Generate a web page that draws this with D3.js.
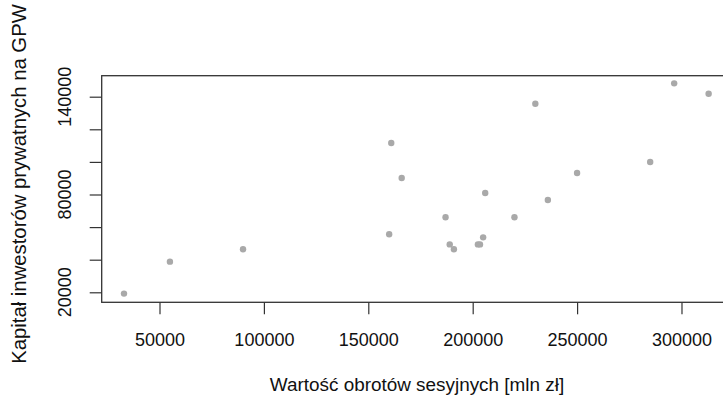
<!DOCTYPE html>
<html>
<head>
<meta charset="utf-8">
<script src="https://cdn.jsdelivr.net/npm/d3@7"></script>
<style>
  html, body { margin: 0; padding: 0; background: #ffffff; overflow: hidden; }
  svg { display: block; font-family: "Liberation Sans", Arial, sans-serif; }
</style>
</head>
<body>
<svg id="chart" width="723" height="399"></svg>
<script>
// Data
const turnover = [33000, 55000, 90000, 161000, 166000, 160000, 230000, 296500, 313000, 285000,
                  250000, 206000, 236000, 187000, 220000, 205000, 189000, 191000, 202500, 203500];
const capital  = [19200, 38800, 46400, 111600, 90100, 55600, 135700, 148200, 141800, 99900,
                  93200, 80900, 76600, 66000, 66000, 53700, 49400, 46400, 49400, 49400];
const xTicks = [50000, 100000, 150000, 200000, 250000, 300000];
const yTicks = [20000, 40000, 60000, 80000, 100000, 120000, 140000];
const yTickLabels = [20000, 80000, 140000];
const xTitle = "Wartość obrotów sesyjnych [mln zł]";
const yTitle = "Kapitał inwestorów prywatnych na GPW";

const svg = d3.select("#chart");
const pLeft = 101.7, pRight = 731.6, pTop = 75.7, pBottom = 302.3;

const x = d3.scaleLinear().domain([22318, 324000]).range([pLeft, pRight]);
const y = d3.scaleLinear().domain([13865, 152883]).range([pBottom, pTop]);

// x axis
const xAxis = d3.axisBottom(x).tickValues(xTicks).tickSize(12).tickPadding(19)
  .tickFormat(d3.format("d"));
const gx = svg.append("g").attr("transform", `translate(0,${pBottom})`).call(xAxis);
gx.select(".domain").remove();
gx.selectAll(".tick line").attr("stroke", "#333").attr("stroke-width", 1.2);
gx.selectAll(".tick text").attr("font-size", 18).attr("fill", "#111")
  .attr("font-family", "Liberation Sans, Arial, sans-serif");

// y axis
const yAxis = d3.axisLeft(y).tickValues(yTicks).tickSize(12).tickFormat("");
const gy = svg.append("g").attr("transform", `translate(${pLeft},0)`).call(yAxis);
gy.select(".domain").remove();
gy.selectAll(".tick line").attr("stroke", "#333").attr("stroke-width", 1.2);

// rotated y tick labels
svg.append("g").selectAll("text").data(yTickLabels).join("text")
  .attr("transform", d => `translate(71,${y(d)}) rotate(-90)`)
  .attr("text-anchor", "middle")
  .attr("font-size", 18).attr("fill", "#111")
  .text(d => d3.format("d")(d));

// plot box
svg.append("rect").attr("x", pLeft).attr("y", pTop)
  .attr("width", pRight - pLeft).attr("height", pBottom - pTop)
  .attr("fill", "none").attr("stroke", "#333").attr("stroke-width", 1.3);

// points
svg.append("g").selectAll("circle").data(turnover.map((v, i) => [v, capital[i]])).join("circle")
  .attr("cx", d => x(d[0])).attr("cy", d => y(d[1])).attr("r", 3.2)
  .attr("fill", "#a9a9a9");

// axis titles
svg.append("text").attr("x", 417).attr("y", 391)
  .attr("text-anchor", "middle").attr("font-size", 18.9).attr("fill", "#111")
  .text(xTitle);

svg.append("text").attr("transform", `translate(26,${184}) rotate(-90)`)
  .attr("text-anchor", "middle").attr("font-size", 20.3).attr("fill", "#111")
  .text(yTitle);
</script>
</body>
</html>
